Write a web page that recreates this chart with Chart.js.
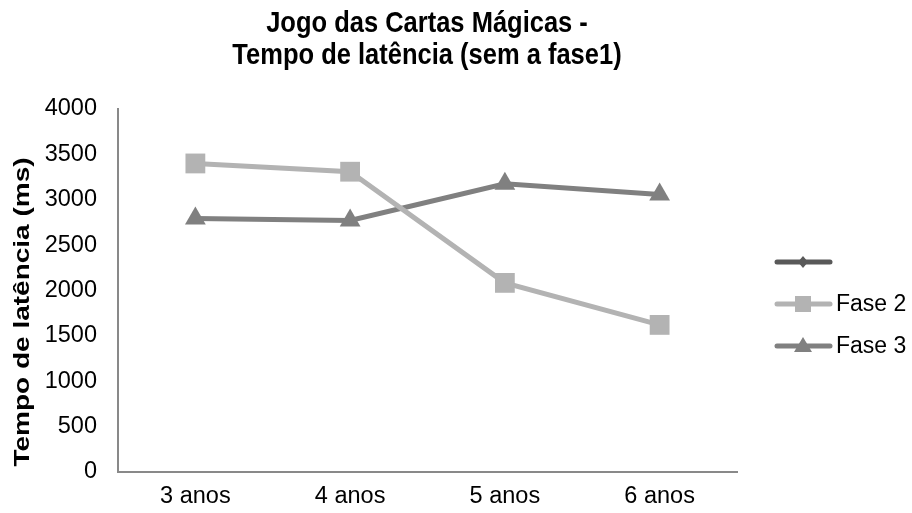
<!DOCTYPE html>
<html>
<head>
<meta charset="utf-8">
<script src="https://cdn.jsdelivr.net/npm/chart.js@4/dist/chart.umd.min.js"></script>
<style>
  body { margin: 0; background: #fff; }
  canvas { display: block; }
</style>
</head>
<body>
<canvas id="latencyChart" width="912" height="513"></canvas>
<script>
/* data */
const categories = ['3 anos', '4 anos', '5 anos', '6 anos'];
const serie1 = [null, null, null, null]; // only shows in the legend
const fase2 = [3400, 3309, 2084, 1621];
const fase3 = [2793, 2771, 3176, 3058];
const yMin = 0;
const yMax = 4000;
const yStep = 500;
const titleLines = ['Jogo das Cartas Mágicas -', 'Tempo de latência (sem a fase1)'];
const yTitle = 'Tempo de latência (ms)';

const fontFamily = '"Liberation Sans", Arial, sans-serif';
const axisColor = '#898989';

/* draws title, y axis title and the legend (line + marker) */
const decorations = {
    id: 'decorations',
    afterDraw(chart) {
        const ctx = chart.ctx;
        ctx.save();
        ctx.fillStyle = '#000';
        ctx.textAlign = 'center';
        ctx.textBaseline = 'alphabetic';
        ctx.font = 'bold 25.5px ' + fontFamily;
        // the reference title glyphs are a bit taller than wide
        [32, 64].forEach((base, i) => {
            ctx.save();
            ctx.translate(427, base);
            ctx.scale(1, 1.15);
            ctx.fillText(titleLines[i], 0, 0);
            ctx.restore();
        });

        // y axis title
        ctx.save();
        ctx.translate(29, 312);
        ctx.rotate(-Math.PI / 2);
        ctx.scale(1, 0.8);
        ctx.font = 'bold 28px ' + fontFamily;
        ctx.fillText(yTitle, 0, 0);
        ctx.restore();

        // legend
        const legendY = [262, 304, 346];
        chart.data.datasets.forEach((ds, i) => {
            const y = legendY[i];
            ctx.strokeStyle = ds.borderColor;
            ctx.lineWidth = 5;
            ctx.lineCap = 'round';
            ctx.beginPath();
            ctx.moveTo(777, y);
            ctx.lineTo(830, y);
            ctx.stroke();
            ctx.fillStyle = ds.pointBackgroundColor;
            const cx = 803;
            ctx.beginPath();
            if (ds.pointStyle === 'rectRot') {
                ctx.moveTo(cx, y - 6); ctx.lineTo(cx + 5, y); ctx.lineTo(cx, y + 6); ctx.lineTo(cx - 5, y);
            } else if (ds.pointStyle === 'rect') {
                ctx.rect(cx - 8, y - 8, 16, 16);
            } else {
                ctx.moveTo(cx, y - 9); ctx.lineTo(cx + 9, y + 6); ctx.lineTo(cx - 9, y + 6);
            }
            ctx.closePath();
            ctx.fill();
            ctx.fillStyle = '#000';
            ctx.textAlign = 'left';
            ctx.textBaseline = 'middle';
            ctx.font = '23px ' + fontFamily;
            if (ds.label) ctx.fillText(ds.label, 836, y + 1);
        });
        ctx.restore();
    }
};

const ctx = document.getElementById('latencyChart').getContext('2d');
const latencyChart = new Chart(ctx, {
    type: 'line',
    data: {
        labels: categories,
        datasets: [{
            label: '',
            data: serie1,
            borderColor: '#595959',
            backgroundColor: '#595959',
            pointBackgroundColor: '#595959',
            borderWidth: 5,
            pointStyle: 'rectRot',
            pointRadius: 7
        }, {
            label: 'Fase 2',
            data: fase2,
            borderColor: '#b3b3b3',
            backgroundColor: '#b3b3b3',
            pointBackgroundColor: '#b3b3b3',
            pointBorderWidth: 0,
            borderWidth: 5,
            pointStyle: 'rect',
            pointRadius: 14
        }, {
            label: 'Fase 3',
            data: fase3,
            borderColor: '#808080',
            backgroundColor: '#808080',
            pointBackgroundColor: '#808080',
            pointBorderWidth: 0,
            borderWidth: 5,
            pointStyle: 'triangle',
            pointRadius: 12
        }]
    },
    options: {
        responsive: false,
        animation: false,
        devicePixelRatio: 1,
        layout: { padding: { top: 109, right: 175, bottom: 0, left: 0 } },
        plugins: {
            legend: { display: false },
            title: { display: false },
            tooltip: { enabled: false }
        },
        scales: {
            x: {
                offset: true,
                grid: { display: false, drawTicks: false },
                border: { color: axisColor, width: 2 },
                ticks: { color: '#000', padding: 10, font: { family: fontFamily, size: 23.5 } },
                afterFit: (scale) => { scale.height = 41; }
            },
            y: {
                min: yMin,
                max: yMax,
                grid: { display: false, drawTicks: false },
                border: { color: axisColor, width: 2 },
                ticks: {
                    stepSize: yStep,
                    color: '#000',
                    padding: 21,
                    font: { family: fontFamily, size: 23.5 },
                    callback: (value) => String(value) // no thousands separator
                },
                afterFit: (scale) => { scale.width = 118; }
            }
        }
    },
    plugins: [decorations]
});
</script>
</body>
</html>
